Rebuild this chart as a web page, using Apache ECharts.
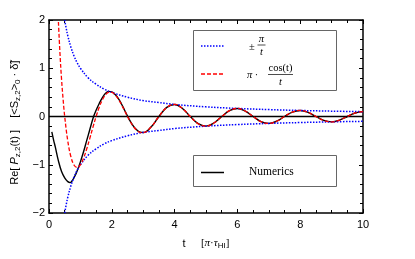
<!DOCTYPE html>
<html><head><meta charset="utf-8">
<script src="https://cdn.jsdelivr.net/npm/echarts@6/dist/echarts.min.js"></script>
<style>html,body{margin:0;padding:0;background:#fff}#c{width:415px;height:259px}</style>
</head><body><div id="c"></div>
<script>
// ---- data ----
const tBlue = [0.5,0.55,0.6,0.7,0.8,0.9,1.0,1.25,1.5,1.75,2,2.5,3,3.5,4,5,6,7,8,9,10];
const blueUpper = [2.0,1.82,1.67,1.43,1.25,1.11,1.0,0.8,0.67,0.57,0.5,0.4,0.33,0.29,0.25,0.2,0.167,0.143,0.125,0.111,0.1];
const blueLower = [-2.0,-1.82,-1.67,-1.43,-1.25,-1.11,-1.0,-0.8,-0.67,-0.57,-0.5,-0.4,-0.33,-0.29,-0.25,-0.2,-0.167,-0.143,-0.125,-0.111,-0.1];

const tRed = [0.3,0.35,0.4,0.45,0.5,0.6,0.7,0.8,0.9,1.0,1.1,1.2,1.3,1.4,1.5,1.6,1.7,1.8,1.9,2.0,2.1,2.2,2.3,2.4,2.5,2.6,2.7,2.8,2.9,3.0,
  3.25,3.5,3.75,4,4.25,4.5,4.75,5,5.25,5.5,5.75,6,6.25,6.5,6.75,7,7.25,7.5,7.75,8,8.25,8.5,8.75,9,9.25,9.5,9.75,10];
const redVals = [1.96,1.30,0.77,0.35,0.0,-0.515,-0.84,-1.01,-1.057,-1.0,-0.865,-0.674,-0.452,-0.221,0.0,0.193,0.346,0.449,0.50,0.50,0.453,0.368,0.256,0.129,0.0,-0.119,-0.218,-0.289,-0.328,-0.333,
  -0.218,0.0,0.189,0.25,0.166,0.0,-0.149,-0.2,-0.135,0.0,0.123,0.167,0.113,0.0,-0.105,-0.143,-0.098,0.0,0.091,0.125,0.086,0.0,-0.081,-0.111,-0.076,0.0,0.073,0.1];

const tNum = [0.09,0.15,0.2,0.3,0.4,0.5,0.6,0.67,0.75,0.85,0.93,1.0,1.1,1.2,1.3,1.42,1.5,1.6,1.7,1.8,1.89,2.0,2.1,2.2,2.3,2.4,2.5,2.6,2.7,2.8,2.9,3.0,
  3.25,3.5,3.75,4,4.25,4.5,4.75,5,5.25,5.5,5.75,6,6.25,6.5,6.75,7,7.25,7.5,7.75,8,8.25,8.5,8.75,9,9.25,9.5,9.75,10];
const numVals = [-0.32,-0.50,-0.63,-0.92,-1.14,-1.27,-1.35,-1.37,-1.32,-1.20,-1.07,-0.94,-0.73,-0.50,-0.27,0.0,0.13,0.27,0.39,0.48,0.52,0.51,0.46,0.38,0.27,0.14,0.01,-0.11,-0.21,-0.28,-0.325,-0.333,
  -0.218,0.0,0.189,0.25,0.166,0.0,-0.149,-0.2,-0.135,0.0,0.123,0.167,0.113,0.0,-0.105,-0.143,-0.098,0.0,0.091,0.125,0.086,0.0,-0.081,-0.111,-0.076,0.0,0.073,0.1];

const xTicks = [0,2,4,6,8,10];
const yTicks = [-2,-1,0,1,2];

// ---- chart ----
const zip = (a,b) => a.map((v,i)=>[v,b[i]]);
const chart = echarts.init(document.getElementById('c'), null, {renderer:'canvas'});
const sans = 'Liberation Sans, Arial, sans-serif';
const serif = 'Liberation Serif, Times New Roman, serif';
const tickStyle = {show:true, inside:true, length:4, lineStyle:{color:'#000', width:1}};
const minor = (n)=>({show:true, splitNumber:n, length:3, lineStyle:{color:'#000', width:1}});
const axisLine = {show:true, onZero:false, lineStyle:{color:'#000', width:1.5}};

chart.setOption({
  animation:false,
  backgroundColor:'#fff',
  grid:{left:49, top:20, right:52, bottom:46, containLabel:false},
  xAxis:[{
    type:'value', min:xTicks[0], max:xTicks[xTicks.length-1], interval:2,
    axisLine:axisLine, axisTick:tickStyle, minorTick:minor(4), splitLine:{show:false},
    axisLabel:{color:'#000', fontFamily:sans, fontSize:11, margin:6},
    name:'{n|t}{g|     }{b|[}{i|π}{b|·}{i|τ}{s|HI}{b|]}', nameLocation:'middle', nameGap:24,
    nameTextStyle:{rich:{
      n:{fontFamily:sans, fontSize:11, color:'#000'},
      g:{fontFamily:sans, fontSize:11},
      b:{fontFamily:serif, fontSize:11, color:'#000'},
      i:{fontFamily:serif, fontStyle:'italic', fontSize:11, color:'#000'},
      s:{fontFamily:sans, fontSize:8, color:'#000', verticalAlign:'bottom', padding:[5,0,0,0]}
    }}
  },{
    type:'value', position:'top', min:0, max:10, interval:2,
    axisLine:axisLine, axisTick:tickStyle, minorTick:minor(4), splitLine:{show:false}, axisLabel:{show:false}
  }],
  yAxis:[{
    type:'value', min:yTicks[0], max:yTicks[yTicks.length-1], interval:1,
    axisLine:axisLine, axisTick:tickStyle, minorTick:minor(5), splitLine:{show:false},
    axisLabel:{color:'#000', fontFamily:sans, fontSize:11, margin:4, formatter:(v)=> v<0 ? '\u2212'+(-v) : String(v)},
    name:'{n|Re[ }{i|P}{s|z,2}{n|(t) ]    [<S}{s|z,2}{n|>}{s|0}{n| · δ̃]}{n|    }', nameLocation:'middle', nameGap:26, nameRotate:90,
    nameTextStyle:{rich:{
      n:{fontFamily:sans, fontSize:11, color:'#000'},
      i:{fontFamily:sans, fontStyle:'italic', fontSize:11, color:'#000'},
      s:{fontFamily:sans, fontSize:8, color:'#000', verticalAlign:'bottom', padding:[5,0,0,0]}
    }}
  },{
    type:'value', position:'right', min:-2, max:2, interval:1,
    axisLine:axisLine, axisTick:tickStyle, minorTick:minor(5), splitLine:{show:false}, axisLabel:{show:false}
  }],
  series:[
    {type:'line', data:[[0,0],[10,0]], symbol:'none', lineStyle:{color:'#000', width:1.3}, silent:true, z:1},
    {name:'Numerics', type:'line', data:zip(tNum,numVals), symbol:'none', smooth:0.4, clip:true,
      lineStyle:{color:'#000', width:1.4}, z:2},
    {name:'upper', type:'line', data:zip(tBlue,blueUpper), symbol:'none', smooth:0.4, clip:true,
      lineStyle:{color:'#0000ff', width:1.5, type:[1.5,1.5]}, z:3},
    {name:'lower', type:'line', data:zip(tBlue,blueLower), symbol:'none', smooth:0.4, clip:true,
      lineStyle:{color:'#0000ff', width:1.5, type:[1.5,1.5]}, z:3},
    {name:'pi cos', type:'line', data:zip(tRed,redVals), symbol:'none', smooth:0.4, clip:true,
      lineStyle:{color:'#ff0000', width:1.3, type:[4,2]}, z:4}
  ],
  graphic:[
    {type:'rect', shape:{x:193.5,y:30.5,width:143,height:60}, style:{fill:'#fff', stroke:'#666', lineWidth:1}, z:100},
    {type:'line', shape:{x1:201,y1:46,x2:225,y2:46}, style:{stroke:'#0000ff', lineWidth:1.5, lineDash:[1.5,1.5]}, z:101},
    {type:'text', x:249, y:47, style:{text:'±', font:'10.5px '+serif, fill:'#000', verticalAlign:'middle'}, z:101},
    {type:'text', x:261.5, y:39, style:{text:'π', font:'italic 10.5px '+serif, fill:'#000', align:'center', verticalAlign:'middle'}, z:101},
    {type:'line', shape:{x1:257.5,y1:45,x2:265.5,y2:45}, style:{stroke:'#000', lineWidth:0.7}, z:101},
    {type:'text', x:261.5, y:52.5, style:{text:'t', font:'italic 10.5px '+serif, fill:'#000', align:'center', verticalAlign:'middle'}, z:101},
    {type:'line', shape:{x1:201,y1:74,x2:225,y2:74}, style:{stroke:'#ff0000', lineWidth:1.5, lineDash:[4,2]}, z:101},
    {type:'text', x:247, y:75, style:{text:'π ·', font:'italic 10.5px '+serif, fill:'#000', verticalAlign:'middle'}, z:101},
    {type:'text', x:280.5, y:68, style:{text:'cos(t)', font:'10.5px '+serif, fill:'#000', align:'center', verticalAlign:'middle'}, z:101},
    {type:'line', shape:{x1:268,y1:74.5,x2:293,y2:74.5}, style:{stroke:'#000', lineWidth:0.7}, z:101},
    {type:'text', x:280.5, y:82.5, style:{text:'t', font:'italic 10.5px '+serif, fill:'#000', align:'center', verticalAlign:'middle'}, z:101},
    {type:'rect', shape:{x:193.5,y:155.5,width:143,height:31}, style:{fill:'#fff', stroke:'#666', lineWidth:1}, z:100},
    {type:'line', shape:{x1:201,y1:172.5,x2:224,y2:172.5}, style:{stroke:'#000', lineWidth:1.5}, z:101},
    {type:'text', x:249, y:172, style:{text:'Numerics', font:'11.5px '+serif, fill:'#000', verticalAlign:'middle'}, z:101}
  ]
});
</script>
</body></html>
